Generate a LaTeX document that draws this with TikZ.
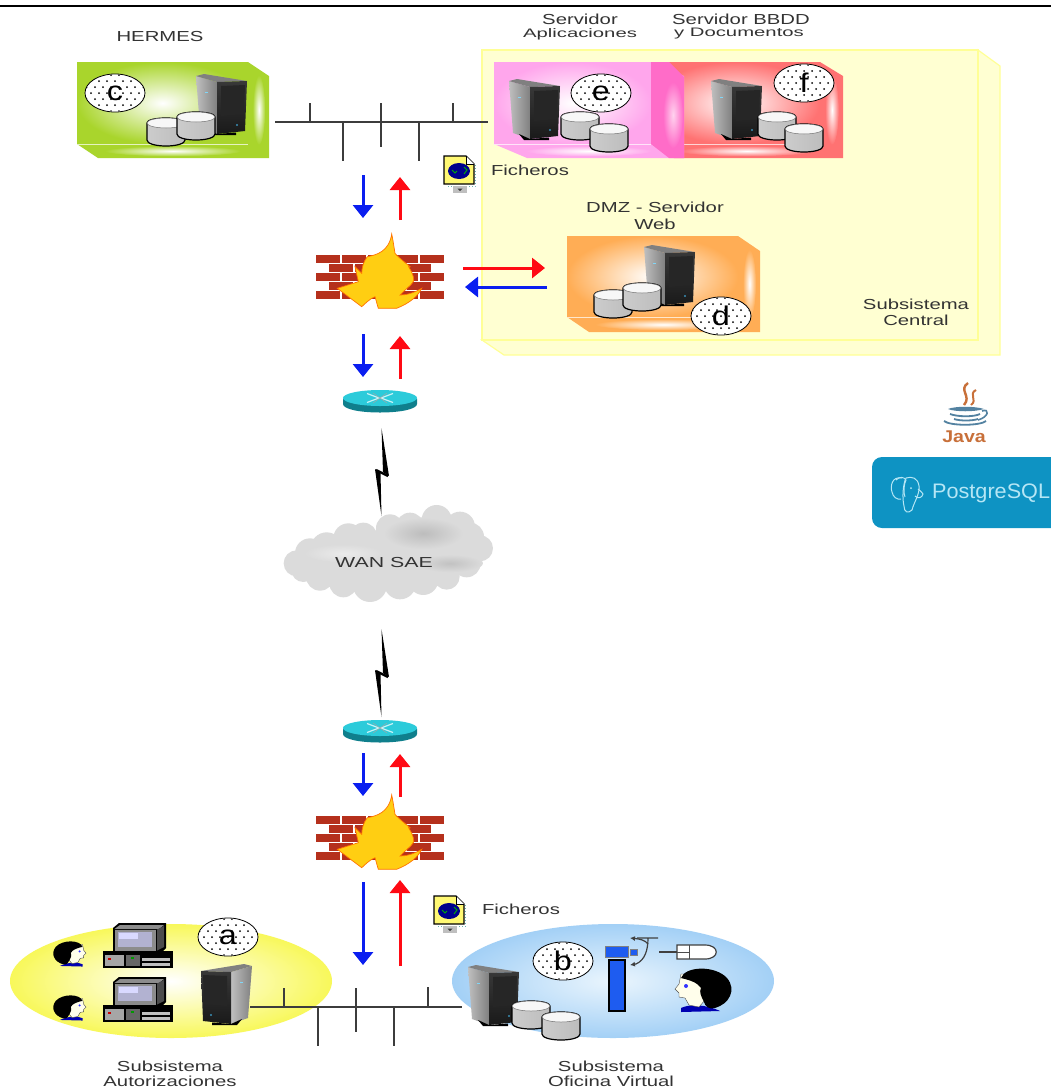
\documentclass[tikz,border=0pt]{standalone}
\usepackage{fontspec}
\setmainfont{Liberation Sans}
\usetikzlibrary{arrows.meta,shapes.geometric}
\definecolor{txt}{HTML}{333333}
\definecolor{netc}{HTML}{3C3C3C}
\definecolor{yelf}{HTML}{FFFFD2}
\definecolor{yell}{HTML}{FFFF96}
\definecolor{greenc}{HTML}{A9D52C}
\definecolor{pinkc}{HTML}{FFA6EC}
\definecolor{hotp}{HTML}{FF6CC8}
\definecolor{redc}{HTML}{FF7272}
\definecolor{orangec}{HTML}{FFAD55}
\definecolor{flowb}{HTML}{0A1EF0}
\definecolor{flowr}{HTML}{FF0A14}
\definecolor{brick}{HTML}{B5301C}
\definecolor{flame}{HTML}{FFCE12}
\definecolor{pgc}{HTML}{0E93C3}
\definecolor{pgt}{HTML}{B5E6F5}
\definecolor{javao}{HTML}{C8703A}
\definecolor{javab}{HTML}{5382A1}
\definecolor{routtop}{HTML}{2CCBDA}
\definecolor{routside}{HTML}{0F7F8C}
\definecolor{yelo}{HTML}{F8F85A}
\definecolor{bluo}{HTML}{A3D0F6}
\definecolor{bluc}{HTML}{EAF5FD}
\definecolor{consb}{HTML}{1E5CF0}
\tikzset{
  lab/.style={font=\fontsize{14.5}{16}\selectfont,text=txt,xscale=1.4,inner sep=0pt,align=center},
  netline/.style={draw=netc,line width=1.6pt},
  flowarrow/.style={line width=3pt,-{Triangle[length=13pt,width=20pt]}},
  badgebase/.style={ellipse,draw=black,line width=0.8pt,fill=white,minimum width=60pt,minimum height=38pt,inner sep=0pt},
  badgeletter/.style={font=\fontsize{27}{27}\selectfont,text=black,xscale=1.2,inner sep=0pt},
  tower/.pic={
    \path[left color=black!25,right color=black!50] (0,2)--(21,8)--(21,60)--(4,54)--cycle;
    \fill[black!50] (0,2)--(8,0)--(51,7)--(21,8)--cycle;
    \path[top color=black!78,bottom color=black!90] (21,8)--(51,7)--(49,57)--(21,60)--cycle;
    \fill[black!85] (25,12)--(49,11)--(48,40)--(25,42)--cycle;
    \fill[black] (10,55)--(21,60)--(40,58.5)--(40,61)--(15,61)--cycle;
    \fill[cyan!70!black] (41,51) circle[radius=1.2];
    \fill[cyan!50] (9,18) rectangle (12,19);
  },
  cyl/.pic={
    \path[draw=black,line width=1.2pt,left color=black!20,middle color=black!4,right color=black!26]
      (0,5)--(0,22) .. controls (0,25.5) and (8,28) .. (19,28) .. controls (30,28) and (38,25.5) .. (38,22)--(38,5) .. controls (38,2) and (30,0) .. (19,0) .. controls (8,0) and (0,2) .. (0,5)--cycle;
    \draw[black!55,line width=.5pt,fill=white!97!black] (19,5) ellipse [x radius=19,y radius=5];
  },
  firewall/.pic={
    \foreach \yy in {255,273,291}{
      \foreach \c in {0,...,4}{\fill[brick] ({316+\c*26},\yy) rectangle ++(24,8);}}
    \foreach \yy in {264,282}{
      \foreach \c in {0,...,3}{\fill[brick] ({329+\c*26},\yy) rectangle ++(24,8);}}
    \path[fill=flame,draw=orange!90!red,line width=.7pt]
      (391.7,234) .. controls (389,252) and (376,255) .. (367.3,256.7)
      .. controls (363,262) and (362,268) .. (361.7,273.3) -- (355,266.7)
      .. controls (356,272) and (358,279) .. (358.3,281.7) -- (337.3,288.3)
      -- (361.7,306.7) .. controls (366,303) and (368,300) .. (375,296.7)
      .. controls (376,300) and (377,304) .. (378.3,308.3) -- (396.7,308.3)
      .. controls (410,303) and (418,296) .. (421.7,288.3)
      .. controls (412,294) and (405,295) .. (400,295)
      .. controls (410,285) and (416,282) .. (413.3,276.7)
      .. controls (412,270) and (406,265) .. (410,266.7)
      .. controls (402,260) and (396,255) .. (395,253.3)
      .. controls (394,247) and (393,240) .. (391.7,234) -- cycle;
  },
  routerpic/.pic={
    \path[fill=routside] (0,8.5)--(0,14) .. controls (0,19) and (16,22.5) .. (37,22.5) .. controls (58,22.5) and (74,19) .. (74,14)--(74,8.5)--cycle;
    \fill[routtop] (37,8) ellipse [x radius=37,y radius=8];
    \draw[white!75!routtop,line width=1.2pt] (24,3.5)--(36,8)--(24,12.5) (50,3.5)--(38,8)--(50,12.5);
    \draw[black!35,line width=.5pt] (30,3)--(44,13) (44,3)--(30,13);
  },
  docicon/.pic={
    \draw[teal!60,line width=1pt,dotted] (33.5,10)--(33.5,31)--(5,31);
    \path[draw=black,line width=1.2pt,fill=yellow!55] (2,1)--(24,1)--(32,9)--(32,29)--(2,29)--cycle;
    \fill[white] (24,1)--(24,9)--(32,9)--cycle;
    \draw[black,line width=.8pt] (24,1)--(24,9)--(32,9);
    \fill[blue!55!black] (17,16) ellipse [x radius=11,y radius=8];
    \draw[green!70!black,line width=.9pt] (10,15)--(13,18)--(15,16) (22,12)--(25,15)--(22,19);
    \fill[black!25] (11,31) rectangle (25,38);
    \fill[black!75] (15.5,33.5)--(20.5,33.5)--(18,36)--cycle;
  },
  headpic/.pic={
    \fill[blue!70!black] (6,40)..controls (14,36) and (30,36) .. (45,43)--(6,44)--cycle;
    \path[fill=yellow!8,draw=black!70,line width=.4pt] (0,21)--(4,16)--(6,6)--(24,6)--(30,32)--(24,39)--(14,37)--(10,30)--(4,29)--(4,25)--cycle;
    \fill[black] (6,10) .. controls (10,-2) and (40,-3) .. (52,10) .. controls (62,22) and (54,36) .. (40,40)
      .. controls (34,42) and (30,38) .. (29,34) .. controls (26,28) and (24,24) .. (26,20) .. controls (22,14) and (14,12) .. (6,10) -- cycle;
    \fill[blue!80] (11,18) circle[radius=2];
  },
  pcpic/.pic={
    \fill[black] (1,28) rectangle (71,45);
    \fill[black!35] (3,32) rectangle (22,43);
    \fill[black!60] (24,32) rectangle (38,43);
    \fill[black!25] (40,35) rectangle (68,38);
    \fill[black!25] (40,40) rectangle (68,43);
    \fill[red!80!black] (6,35) rectangle (9,37);
    \fill[green!60!black] (29,34) rectangle (32,36);
    \fill[black] (11,5)--(17,0)--(64,0)--(64,25)--(60,29)--(11,29)--cycle;
    \fill[black!45] (12.5,6)--(18,2)--(62,2)--(57,6)--cycle;
    \fill[black!45] (12.5,6.5) rectangle (54,27.5);
    \fill[black!70] (55,6.5)--(62,3)--(62,24)--(55,27.5)--cycle;
    \fill[blue!40!black!30!white] (16,9) rectangle (50,24);
    \fill[blue!15] (17,10) rectangle (36,16);
  },
  boltpic/.pic={
    \fill[black] (121.5,8)--(129,56)--(123,52)--cycle;
    \fill[black] (115,49)--(120.5,53)--(121.5,96)--cycle;
    \draw[black,line width=2.4pt] (116,50)--(128,56);
  },
}
\newcommand\solidbox[9]{% x0 y0 x1 y1 dx dy colour centre name
  \fill[#7] (#1,#4)--(#1+#5,#4+#6)--(#3+#5,#4+#6)--(#3+#5,#2+#6)--(#3,#2)--(#3,#4)--cycle;
  \node[ellipse,inner sep=0pt,minimum width={(#5*0.6)*1pt},minimum height={(#4-#2)*0.85pt},inner color=#8,outer color=#7] at ({#3+#5*0.52},{(#2+#4+#6)/2}) {};
  \node[ellipse,inner sep=0pt,minimum width={(#3-#1)*0.8pt},minimum height={#6*0.75pt},inner color=#8,outer color=#7] at ({(#1+#3+#5)/2},{#4+#6/2}) {};
  \node[inner sep=0pt,outer sep=0pt,minimum width={(#3-#1)*1pt},minimum height={(#4-#2)*1pt},inner color=#8,outer color=#7] (#9) at ({(#1+#3)/2},{(#2+#4)/2}) {};
  \draw[white!70!#7,line width=.8pt] (#1,#4)--(#3,#4);
}
\newcommand\badge[4]{% name x y letter
  \node[badgebase] (#1) at (#2,#3) {};
  \begin{scope}
    \clip (#2,#3) ellipse [x radius=29,y radius=18];
    \foreach \j in {-3,...,3}{
      \foreach \i in {-4,...,4}{
        \pgfmathsetmacro\ox{#2+\i*8+4*mod(abs(\j),2)}
        \pgfmathsetmacro\oy{#3+\j*6}
        \fill[black] (\ox,\oy) circle[radius=1];
      }}
  \end{scope}
  \node[badgeletter] at (#1) {#4};
}
\newcommand\flow[6]{% name colour x1 y1 x2 y2
  \coordinate (#1-s) at (#3,#4);
  \coordinate (#1-e) at (#5,#6);
  \draw[flowarrow,#2] (#1-s)--(#1-e);
}
\newcommand\bus[8]{% name y xl xr then four tick xs
  \coordinate (#1-l) at (#3,#2);
  \coordinate (#1-r) at (#4,#2);
  \draw[netline] (#1-l)--(#1-r);
  \foreach \n/\tx/\ta/\tb in {1/#5/-19/0,2/#6/0/39,3/#7/-19/25,4/#8/0/39}{
    \coordinate (#1-t\n a) at (\tx,#2+\ta);
    \coordinate (#1-t\n b) at (\tx,#2+\tb);
    \draw[netline] (#1-t\n a)--(#1-t\n b);
  }
}
\begin{document}
\begin{tikzpicture}[x=1pt,y=-1pt]
\useasboundingbox (0,0) rectangle (1051,1088);
\fill[white] (0,0) rectangle (1051,1088);
\coordinate (rulel) at (0,6);
\coordinate (ruler) at (1051,6);
\draw[black,line width=1.3pt] (rulel)--(ruler);

% central subsystem box
\path[fill=yelf,draw=yell,line width=1.2pt] (482,340)--(504,355)--(1000,355)--(1000,66)--(978,50)--(978,340)--cycle;
\path[fill=yelf,draw=yell,line width=1.2pt] (482,50) rectangle (978,340);

% boxes
\solidbox{77}{62}{248}{144}{21}{14}{greenc}{white}{boxc}
\solidbox{651}{62}{820}{144}{23}{14}{redc}{white}{boxf}
\solidbox{494}{62}{651}{144}{33}{14}{pinkc}{white}{boxe}
\fill[hotp] (651,62)--(669,62)--(684,77)--(684,158)--(669,158)--(651,144)--cycle;
\node[ellipse,inner sep=0pt,minimum width=20pt,minimum height=66pt,inner color=hotp!30!white,outer color=hotp] (streak) at (673,115) {};
\solidbox{567}{236}{738}{317}{22}{15}{orangec}{white}{boxd}
\node[ellipse,inner sep=0pt,minimum width=322pt,minimum height=114pt,inner color=white,outer color=yelo] (ella) at (171,981) {};
\node[ellipse,inner sep=0pt,minimum width=322pt,minimum height=114pt,inner color=bluc,outer color=bluo] (ellb) at (613,981) {};

% networks
\bus{net1}{122}{275}{488}{310}{343}{381}{419}
\coordinate (net1-t5a) at (453,103);
\coordinate (net1-t5b) at (453,122);
\draw[netline] (net1-t5a)--(net1-t5b);
\bus{net2}{1007}{250}{462}{284}{318}{356}{394}
\coordinate (net2-t5a) at (428,987);
\coordinate (net2-t5b) at (428,1007);
\draw[netline] (net2-t5a)--(net2-t5b);

% servers and disks
\pic at (196,74) {tower};
\pic at (147,118) {cyl};
\pic at (177,112) {cyl};
\pic at (509,79) {tower};
\pic at (561,112) {cyl};
\pic at (590,124) {cyl};
\pic at (711,79) {tower};
\pic at (758,112) {cyl};
\pic at (785,124) {cyl};
\pic at (644,245) {tower};
\pic at (594,290) {cyl};
\pic at (623,283) {cyl};
\pic[xscale=-1] at (252,964) {tower};
\pic at (468,965) {tower};
\pic at (512,1001) {cyl};
\pic at (542,1012) {cyl};

% badges
\badge{bc}{115}{93}{c}
\badge{be}{601}{93}{e}
\badge{bf}{804}{83}{f}
\badge{bd}{721}{316}{d}
\badge{ba}{228}{937}{a}
\badge{bb}{563}{961}{b}

% firewalls and routers
\pic at (0,0) {firewall};
\pic at (0,561) {firewall};
\pic at (343,390) {routerpic};
\pic at (343,720) {routerpic};

% arrows
\flow{a1}{flowb}{363}{175}{363}{218}
\flow{a2}{flowr}{400}{220}{400}{177}
\flow{a3}{flowb}{363}{334}{363}{377}
\flow{a4}{flowr}{400}{379}{400}{336}
\flow{a5}{flowr}{463}{268}{545}{268}
\flow{a6}{flowb}{547}{287}{465}{287}
\flow{a7}{flowb}{363}{753}{363}{796}
\flow{a8}{flowr}{400}{797}{400}{754}
\flow{a9}{flowb}{363}{882}{363}{965}
\flow{a10}{flowr}{400}{966}{400}{880}

% bolts
\pic at (260,420) {boltpic};
\pic at (260,621) {boltpic};

% cloud
\begin{scope}[shift={(260,420)},x=0.3333pt,y=-0.3333pt]
  \fill[black!14] (110,430) circle[radius=13pt] (150,400) circle[radius=15pt] (200,385) circle[radius=16pt] (265,355) circle[radius=15pt] (310,350) circle[radius=14pt]
    (390,325) circle[radius=14pt] (450,320) circle[radius=14pt] (530,300) circle[radius=15pt] (600,320) circle[radius=15pt] (630,350) circle[radius=14pt]
    (660,385) circle[radius=13pt] (620,430) circle[radius=14pt] (560,470) circle[radius=13pt] (490,480) circle[radius=15pt]
    (420,490) circle[radius=16pt] (330,495) circle[radius=17pt] (250,490) circle[radius=14pt] (180,470) circle[radius=14pt] (130,450) circle[radius=12pt]
    (400,420) circle[radius=30pt] (260,430) circle[radius=26pt] (520,390) circle[radius=32pt] (320,420) circle[radius=26pt] (190,430) circle[radius=18pt];
  \node[ellipse,inner sep=0pt,minimum width=80pt,minimum height=32pt,inner color=black!26,outer color=black!14] at (490,340) {};
  \node[ellipse,inner sep=0pt,minimum width=66pt,minimum height=18pt,inner color=black!24,outer color=black!14] at (570,430) {};
  \node[ellipse,inner sep=0pt,minimum width=76pt,minimum height=18pt,inner color=black!8,outer color=black!14] at (250,400) {};
\end{scope}
\node[lab,xscale=1.05] (wan) at (384,562) {WAN SAE};

% files
\pic at (442,155) {docicon};
\pic at (432,895) {docicon};

% PCs and people
\pic at (102,923) {pcpic};
\pic at (102,977) {pcpic};
\pic[xscale=-.58,yscale=.58] at (86,941) {headpic};
\pic[xscale=-.58,yscale=.58] at (86,995) {headpic};
\pic at (675,968) {headpic};

% console
\fill[consb] (609,960) rectangle (625,1011);
\draw[black,line width=1.4pt] (609,960) rectangle (625,1011);
\fill[consb,draw=black!50,line width=.8pt] (605,946) rectangle (628,957);
\fill[consb,draw=black!50,line width=.6pt] (630,949) rectangle (637,955);
\draw[black!75,line width=1.2pt] (637,938)--(658,938) (648,938) .. controls (648,950) and (645,960) .. (636,964);
\draw[black!75,line width=1.2pt,-{Latex[length=5pt,width=5pt]}] (636,964)--(630,965);
\draw[black!75,line width=1.2pt,-{Latex[length=5pt,width=5pt]}] (648,944) .. controls (645,940) and (640,939) .. (630,938);
\draw[black!75,line width=1.2pt] (659,952)--(677,952);
\draw[black!75,line width=1.2pt,fill=white] (677,945) -- (705,945) .. controls (720,945) and (720,959) .. (705,959) -- (677,959)--cycle;
\draw[black!70,line width=.6pt] (689,945)--(689,959) (677,952)--(689,952);

% java logo
\draw[javao,line width=2.4pt] (968,383) .. controls (958,390) and (972,396) .. (964,405);
\draw[javao,line width=2pt] (976,390) .. controls (968,394) and (978,400) .. (971,405);
\fill[javab] (948,409) .. controls (955,406) and (975,406) .. (984,409) .. controls (975,412) and (955,412) .. (948,409)--cycle;
\draw[javab,line width=1.8pt] (950,414)..controls (958,417) and (974,417) .. (980,414);
\draw[javab,line width=1.8pt] (954,419)..controls (960,421) and (972,421) .. (978,419);
\draw[javab,line width=1.6pt] (982,411)..controls (990,408) and (989,417) .. (978,420);
\draw[javab,line width=1.8pt] (944,421)..controls (950,426) and (980,426) .. (986,421);
\node[font=\fontsize{17}{17}\selectfont\bfseries,text=javao,inner sep=0pt,xscale=1.15] (javatext) at (964,437) {Java};

% postgres
\path[fill=pgc,rounded corners=10pt] (872,457) rectangle (1075,528);
\draw[pgt,line width=1pt] (902,478) .. controls (892,476) and (890,486) .. (892,492) .. controls (893,497) and (897,500) .. (901,499);
\draw[pgt,line width=1pt] (906,478) .. controls (912,476) and (918,478) .. (919,486) .. controls (920,494) and (914,502) .. (912,510) .. controls (908,514) and (904,512) .. (904,506) .. controls (902,498) and (903,484) .. (906,478)--cycle;
\draw[pgt,line width=1pt] (896,480) .. controls (900,476) and (904,477) .. (906,480) .. controls (904,484) and (903,492) .. (905,497);
\draw[pgt,line width=1pt] (915,496) .. controls (918,499) and (922,498) .. (923,494) .. controls (921,491) and (919,490) .. (918,489);
\fill[pgt] (911,488) circle[radius=1];
\node[font=\fontsize{21}{21}\selectfont,text=pgt,xscale=1.03,inner sep=0pt,anchor=west] (pgtext) at (932,493) {PostgreSQL};

% labels
\node[lab] (hermes) at (160,37) {HERMES};
\node[lab] (srv1) at (580,19) {Servidor};
\node[lab,yscale=.85] (srv2) at (580,34) {Aplicaciones};
\node[lab] (srv3) at (741,19) {Servidor BBDD};
\node[lab,yscale=.85] (srv4) at (739,34) {y Documentos};
\node[lab] (fich1) at (530,170) {Ficheros};
\node[lab] (dmz1) at (655,207) {DMZ - Servidor};
\node[lab] (dmz2) at (655,224) {Web};
\node[lab] (cent1) at (916,304) {Subsistema};
\node[lab] (cent2) at (916,320) {Central};
\node[lab] (fich2) at (521,909) {Ficheros};
\node[lab] (aut1) at (170,1066) {Subsistema};
\node[lab] (aut2) at (170,1081) {Autorizaciones};
\node[lab] (ofi1) at (611,1066) {Subsistema};
\node[lab] (ofi2) at (611,1081) {Oficina Virtual};
\end{tikzpicture}
\end{document}
